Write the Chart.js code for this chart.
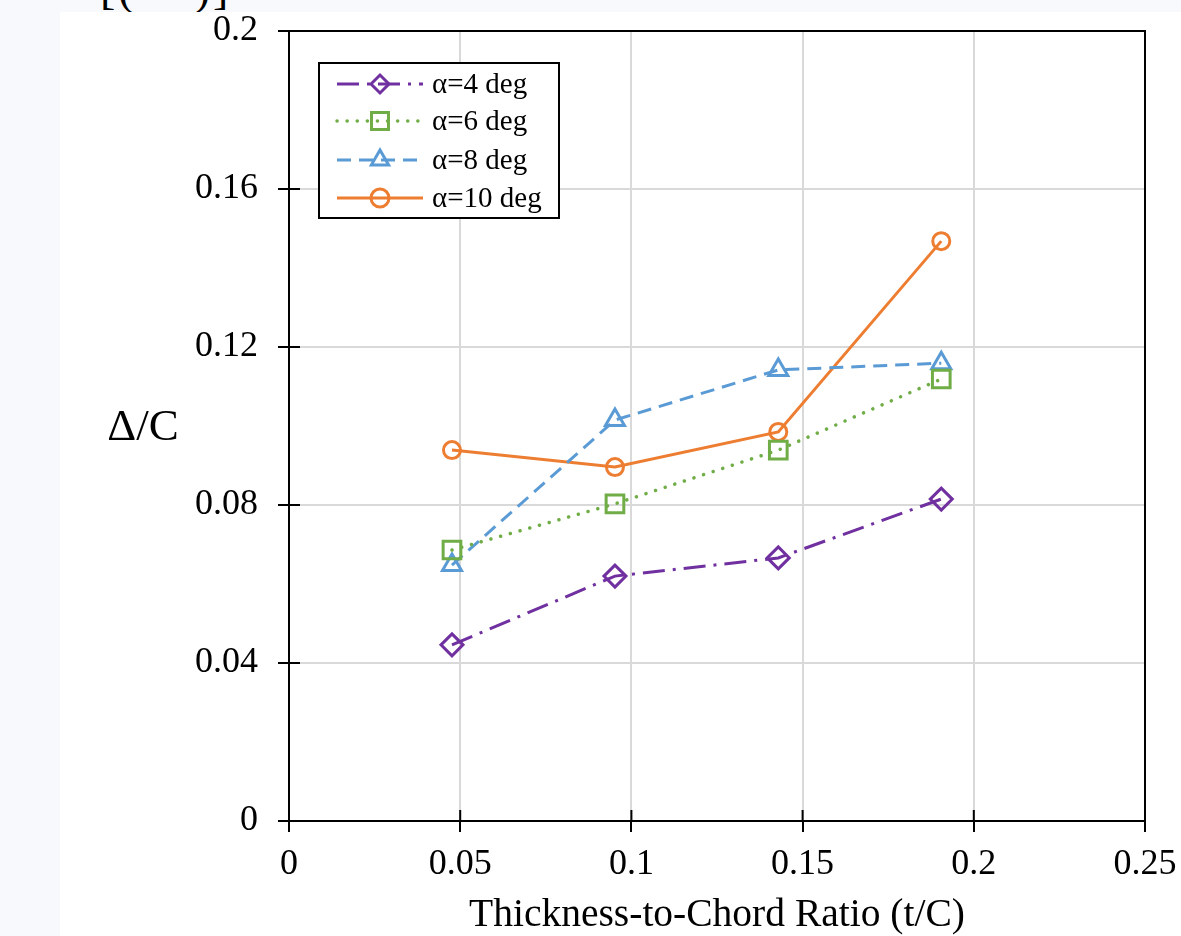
<!DOCTYPE html>
<html>
<head>
<meta charset="utf-8">
<script src="https://cdn.jsdelivr.net/npm/chart.js@4/dist/chart.umd.min.js"></script>
<style>
  html, body { margin: 0; padding: 0; }
  body { width: 1181px; height: 936px; background: #f8f9fc; position: relative; overflow: hidden; }
  #cut { position: absolute; left: 100px; top: -38px; font: 46px "Liberation Serif", serif; color: #000; white-space: pre; letter-spacing: 3px; }
  #wrap { position: absolute; left: 60px; top: 12px; width: 1121px; height: 924px; background: #fff; }
</style>
</head>
<body>
<div id="cut">[(    )]</div>
<div id="wrap"><canvas id="chart" width="1121" height="924"></canvas></div>
<script>
// 數據：厚弦比與各攻角的 Δ/C
const tcRatio = [0.0476, 0.0952, 0.1429, 0.1905];
const alpha4 = [0.0446, 0.0620, 0.0666, 0.0815];
const alpha6 = [0.0686, 0.0803, 0.0939, 0.1119];
const alpha8 = [0.0648, 0.1015, 0.1142, 0.1159];
const alpha10 = [0.0939, 0.0896, 0.0985, 0.1468];
const seriesLabels = ['α=4 deg', 'α=6 deg', 'α=8 deg', 'α=10 deg'];
const xTitle = 'Thickness-to-Chord Ratio (t/C)';
const yTitle = 'Δ/C';

const serif = '"Liberation Serif", "Times New Roman", serif';

function pts(ys) {
    return tcRatio.map((x, i) => ({ x: x, y: ys[i] }));
}

// 繪製標題、外框與圖例
const decor = {
    id: 'decor',
    afterDraw(chart) {
        const ctx = chart.ctx;
        const a = chart.chartArea;
        const xs = chart.scales.x, ys = chart.scales.y;
        ctx.save();
        // 上方與右方外框
        ctx.strokeStyle = '#000';
        ctx.lineWidth = 2;
        ctx.beginPath();
        ctx.moveTo(a.left, a.top);
        ctx.lineTo(a.right, a.top);
        ctx.lineTo(a.right, a.bottom);
        ctx.stroke();
        // 刻度線內側部分
        ctx.beginPath();
        xs.ticks.forEach(t => {
            const px = xs.getPixelForValue(t.value);
            ctx.moveTo(px, a.bottom);
            ctx.lineTo(px, a.bottom - 11);
        });
        ys.ticks.forEach(t => {
            const py = ys.getPixelForValue(t.value);
            ctx.moveTo(a.left, py);
            ctx.lineTo(a.left + 11, py);
        });
        ctx.stroke();

        // 軸標題
        ctx.fillStyle = '#000';
        ctx.textAlign = 'center';
        ctx.textBaseline = 'middle';
        ctx.font = '39.5px ' + serif;
        ctx.fillText(xTitle, (a.left + a.right) / 2, 904);
        ctx.font = '45px ' + serif;
        ctx.fillText(yTitle, 83, 416);

        // 圖例
        const lx = 259, ly = 51, lw = 240, lh = 155;
        ctx.fillStyle = '#fff';
        ctx.fillRect(lx, ly, lw, lh);
        ctx.strokeStyle = '#000';
        ctx.lineWidth = 2;
        ctx.strokeRect(lx, ly, lw, lh);
        const rows = [72, 109, 148, 186];
        chart.data.datasets.forEach((ds, i) => {
            const y = rows[i];
            ctx.save();
            ctx.strokeStyle = ds.borderColor;
            ctx.lineWidth = ds.borderWidth;
            ctx.lineCap = ds.borderCapStyle || 'butt';
            ctx.setLineDash(ds.borderDash || []);
            ctx.beginPath();
            ctx.moveTo(277, y);
            ctx.lineTo(363, y);
            ctx.stroke();
            ctx.restore();
            ctx.save();
            ctx.strokeStyle = ds.borderColor;
            ctx.fillStyle = 'rgba(0,0,0,0)';
            ctx.lineWidth = ds.pointBorderWidth;
            Chart.helpers.drawPoint(ctx, {
                pointStyle: ds.pointStyle,
                radius: ds.legendRadius,
                rotation: 0,
                borderWidth: ds.pointBorderWidth
            }, 320, y);
            ctx.restore();
            ctx.fillStyle = '#000';
            ctx.textAlign = 'left';
            ctx.textBaseline = 'middle';
            ctx.font = '29px ' + serif;
            ctx.fillText(ds.label, 372, y + 1);
        });
        ctx.restore();
    }
};

const ctx = document.getElementById('chart').getContext('2d');
new Chart(ctx, {
    type: 'line',
    data: {
        datasets: [
            {
                label: seriesLabels[0],
                data: pts(alpha4),
                borderColor: '#7030a0',
                borderWidth: 3,
                borderDash: [22, 8, 3, 8],
                pointStyle: 'rectRot',
                pointRadius: 11,
                legendRadius: 9,
                pointBorderWidth: 3,
                pointBackgroundColor: 'rgba(0,0,0,0)',
                pointBorderColor: '#7030a0'
            },
            {
                label: seriesLabels[1],
                data: pts(alpha6),
                borderColor: '#70ad47',
                borderWidth: 3.5,
                borderDash: [0.1, 10],
                borderCapStyle: 'round',
                pointStyle: 'rect',
                pointRadius: 12.5,
                legendRadius: 12,
                pointBorderWidth: 3,
                pointBackgroundColor: 'rgba(0,0,0,0)',
                pointBorderColor: '#70ad47'
            },
            {
                label: seriesLabels[2],
                data: pts(alpha8),
                borderColor: '#5b9bd5',
                borderWidth: 3,
                borderDash: [14, 8],
                pointStyle: 'triangle',
                pointRadius: 11,
                legendRadius: 10,
                pointBorderWidth: 3,
                pointBackgroundColor: 'rgba(0,0,0,0)',
                pointBorderColor: '#5b9bd5'
            },
            {
                label: seriesLabels[3],
                data: pts(alpha10),
                borderColor: '#ed7d31',
                borderWidth: 3,
                borderDash: [],
                pointStyle: 'circle',
                pointRadius: 8.5,
                legendRadius: 9,
                pointBorderWidth: 3,
                pointBackgroundColor: 'rgba(0,0,0,0)',
                pointBorderColor: '#ed7d31'
            }
        ]
    },
    options: {
        responsive: false,
        animation: false,
        events: [],
        layout: { padding: { left: 0, top: 19, right: 36, bottom: 0 } },
        plugins: {
            legend: { display: false },
            tooltip: { enabled: false }
        },
        scales: {
            x: {
                type: 'linear',
                min: 0,
                max: 0.25,
                afterFit: s => {
                    s.height = 115;
                    s.paddingLeft = 0; s.paddingRight = 0;
                    s.paddingTop = 0; s.paddingBottom = 0;
                },
                ticks: {
                    stepSize: 0.05,
                    color: '#000',
                    padding: 11,
                    font: { family: serif, size: 36 },
                    callback: v => String(parseFloat(v.toFixed(2)))
                },
                grid: { color: '#d9d9d9', lineWidth: 2, tickColor: '#000', tickLength: 11 },
                border: { color: '#000', width: 2 }
            },
            y: {
                min: 0,
                max: 0.2,
                afterFit: s => {
                    s.width = 229;
                    s.paddingLeft = 0; s.paddingRight = 0;
                    s.paddingTop = 0; s.paddingBottom = 0;
                },
                ticks: {
                    stepSize: 0.04,
                    color: '#000',
                    padding: 20,
                    font: { family: serif, size: 36 },
                    callback: v => String(parseFloat(v.toFixed(2)))
                },
                grid: { color: '#d9d9d9', lineWidth: 2, tickColor: '#000', tickLength: 11 },
                border: { color: '#000', width: 2 }
            }
        }
    },
    plugins: [decor]
});
</script>
</body>
</html>
